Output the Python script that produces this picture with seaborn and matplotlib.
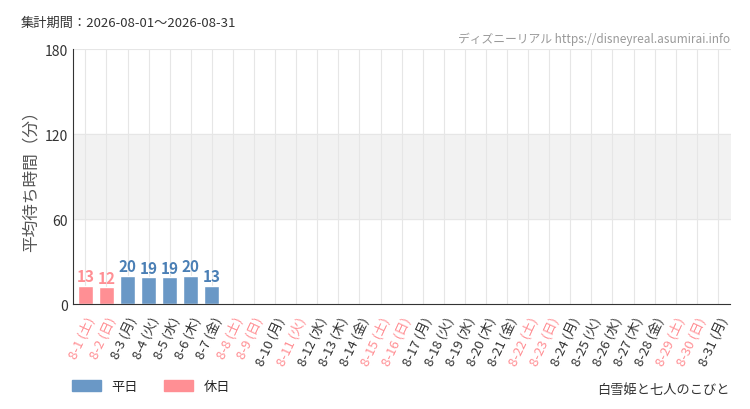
import matplotlib
matplotlib.use("Agg")
import matplotlib.pyplot as plt
import seaborn as sns
import numpy as np
import pandas as pd
from matplotlib.patches import Patch

sns.set_style("white")
plt.rcParams['font.family'] = ['Noto Sans CJK JP', 'DejaVu Sans']

dows = ["土","日","月","火","水","木","金"]
days = list(range(1, 32))
labels = [f"8-{d} ({dows[(d-1)%7]})" for d in days]
holidays = [1,2,8,9,11,15,16,22,23,29,30]
values = [13,12,20,19,19,20,13] + [np.nan]*24
kind = ["休日" if d in holidays else "平日" for d in days]
BLUE, RED = "#6a98c6", "#ff8f94"

df = pd.DataFrame({"label": labels, "value": values, "kind": kind})
fig = plt.figure(figsize=(7.5, 4.1), dpi=100)
ax = fig.add_axes([0.097, 0.256, 0.877, 0.622])
ax.axhspan(60, 120, color="#f2f2f2", zorder=0)
sns.barplot(data=df, x="label", y="value", hue="kind", palette={"平日": BLUE, "休日": RED},
            dodge=False, width=0.72, saturation=1, legend=False, ax=ax, zorder=2)
for i, v in enumerate(values):
    if not np.isnan(v):
        ax.text(i, v + 1, f"{int(v)}", ha="center", va="bottom", fontsize=11, fontweight="bold",
                fontstretch="condensed", color=RED if days[i] in holidays else "#4a7fb5")
ax.set_ylim(0, 180)
ax.set_xlim(-0.6, 30.6)
ax.set_yticks([0, 60, 120, 180])
ax.tick_params(axis='y', length=0, labelsize=10, colors="#333")
ax.tick_params(axis='x', length=4, direction="out", color="#333", labelsize=9.5)
for i in range(31):
    ax.axvline(i, color="#e6e6e6", lw=0.8, zorder=1)
for y in [60, 120, 180]:
    ax.axhline(y, color="#e6e6e6", lw=0.8, zorder=1)
ax.set_xticks(range(31))
ax.set_xticklabels(labels, rotation=65, ha="right", rotation_mode="anchor")
for t, d in zip(ax.get_xticklabels(), days):
    t.set_color(RED if d in holidays else "#333")
ax.set_xlabel("")
ax.set_ylabel("平均待ち時間（分）", fontsize=12, color="#555")
for s in ["top", "right"]:
    ax.spines[s].set_visible(False)
ax.spines["left"].set_color("#333")
ax.spines["bottom"].set_color("#333")

fig.text(0.027, 0.935, "集計期間：2026-08-01〜2026-08-31", fontsize=9.5, color="#333")
fig.text(0.973, 0.895, "ディズニーリアル https://disneyreal.asumirai.info", fontsize=8.5, color="#999", ha="right")
fig.text(0.973, 0.04, "白雪姫と七人のこびと", fontsize=9.5, color="#333", ha="right")
fig.legend(handles=[Patch(color=BLUE, label="平日"), Patch(color=RED, label="休日")],
           loc="lower left", bbox_to_anchor=(0.08, 0.01), ncol=2, frameon=False, fontsize=9.5,
           handlelength=2.2, handleheight=0.9)
fig.savefig("out.png", dpi=100)
